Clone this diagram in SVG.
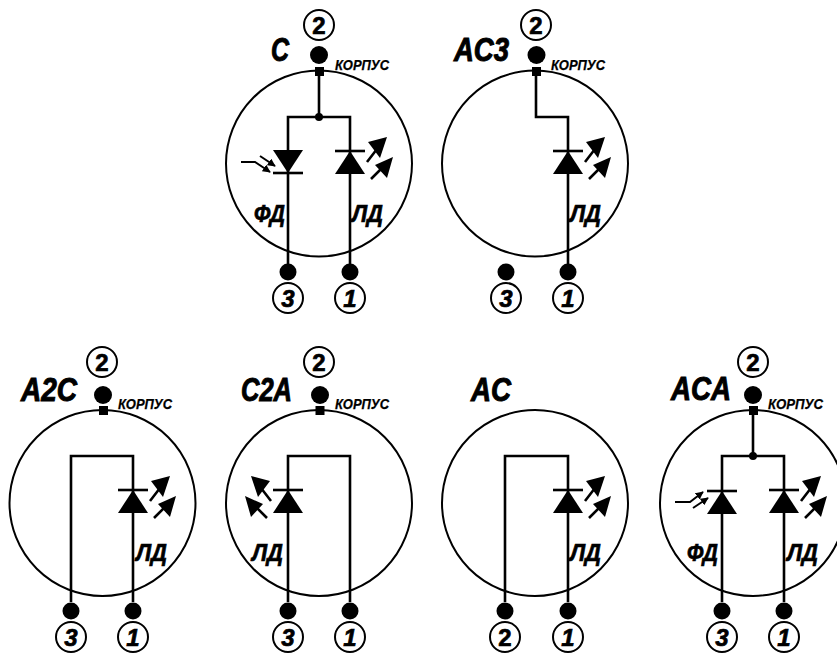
<svg xmlns="http://www.w3.org/2000/svg" width="837" height="659" viewBox="0 0 837 659">
<style>
text{font-family:"Liberation Sans",Arial,sans-serif;font-weight:bold;font-style:italic;fill:#000;stroke:#000;stroke-width:.7}
.body{fill:none;stroke:#000;stroke-width:2}
.w{fill:none;stroke:#000;stroke-width:2.6}
.p{fill:none;stroke:#000;stroke-width:2}
.num{fill:none;stroke:#000;stroke-width:2}
.t{font-size:33px;stroke-width:1}
.k{font-size:15px;stroke-width:.25}
.d{font-size:24px}
.n{font-size:24px;text-anchor:middle}
.u{font-style:normal}
</style>
<defs>
<marker id="sh" viewBox="0 0 10 10" refX="9" refY="5" markerWidth="4" markerHeight="4" markerUnits="strokeWidth" orient="auto"><path d="M0 0L10 5L0 10z" fill="#000"/></marker>
<g id="diodeUp"><path d="M-15 0H15" class="w"/><path d="M0 0L15 23H-15z" fill="#000"/></g>
<g id="diodeDown"><path d="M-15 23H15" class="w"/><path d="M0 23L15 0H-15z" fill="#000"/></g>
<g id="ledArrows"><path d="M17 11L27 -2M21 28L33 16" class="w"/><path d="M37 -14L18 -9L30 7z M43 6L25 14L37 27z" fill="#000"/></g>
</defs>
<g id="connectors">
<path class="w" d="M319 71V117M288 264V117H350V264"/>
<path class="w" d="M536 71V117H568V264"/>
<path class="w" d="M71 602V456H133V602"/>
<path class="w" d="M288 602V456H350V602"/>
<path class="w" d="M505 602V456H568V602"/>
<path class="w" d="M753 410V456M722 602V456H784V602"/>
</g>
<g id="node-c">
<circle class="body" cx="319" cy="163.5" r="93"/>
<text class="t" x="271" y="61" textLength="18" lengthAdjust="spacingAndGlyphs">C</text>
<circle class="num" cx="319" cy="25" r="15"/><text class="n u" x="319" y="33.5">2</text>
<circle cx="319" cy="55" r="9"/><rect x="315" y="67" width="9" height="9"/>
<text class="k" x="335" y="70" textLength="54" lengthAdjust="spacingAndGlyphs">КОРПУС</text>
<circle cx="319" cy="117" r="4"/>
<use href="#diodeDown" x="288" y="150"/>
<use href="#diodeUp" x="350" y="151"/><use href="#ledArrows" x="350" y="151"/>
<path class="p" d="M241 162H255L270 172" marker-end="url(#sh)"/><path class="p" d="M260 156L275 166" marker-end="url(#sh)"/>
<text class="d" x="254" y="222" textLength="31" lengthAdjust="spacingAndGlyphs">ФД</text><text class="d" x="352" y="222" textLength="31" lengthAdjust="spacingAndGlyphs">ЛД</text>
<circle cx="288" cy="272" r="8.5"/><circle cx="350" cy="272" r="8.5"/>
<circle class="num" cx="288" cy="298" r="15"/><text class="n" x="288" y="306.5">3</text>
<circle class="num" cx="350" cy="298" r="15"/><text class="n" x="350" y="306.5">1</text>
</g>
<g id="node-ac3">
<circle class="body" cx="535" cy="163.5" r="93"/>
<text class="t" x="454" y="61" textLength="55" lengthAdjust="spacingAndGlyphs">AC3</text>
<circle class="num" cx="536" cy="25" r="15"/><text class="n u" x="536" y="33.5">2</text>
<circle cx="536.5" cy="55" r="9"/><rect x="532" y="67" width="9" height="9"/>
<text class="k" x="551" y="70" textLength="54" lengthAdjust="spacingAndGlyphs">КОРПУС</text>
<use href="#diodeUp" x="568" y="151"/><use href="#ledArrows" x="568" y="151"/>
<text class="d" x="570" y="222" textLength="31" lengthAdjust="spacingAndGlyphs">ЛД</text>
<circle cx="506" cy="272" r="8.5"/><circle cx="568" cy="272" r="8.5"/>
<circle class="num" cx="506" cy="298" r="15"/><text class="n" x="506" y="306.5">3</text>
<circle class="num" cx="568" cy="298" r="15"/><text class="n" x="568" y="306.5">1</text>
</g>
<g id="node-a2c">
<circle class="body" cx="102.5" cy="503" r="93"/>
<text class="t" x="21" y="401" textLength="56" lengthAdjust="spacingAndGlyphs">A2C</text>
<circle class="num" cx="102" cy="362" r="15"/><text class="n u" x="102" y="370.5">2</text>
<circle cx="103" cy="395" r="9"/><rect x="99" y="406" width="9" height="9"/>
<text class="k" x="118" y="409" textLength="54" lengthAdjust="spacingAndGlyphs">КОРПУС</text>
<use href="#diodeUp" x="133" y="490"/><use href="#ledArrows" x="133" y="490"/>
<text class="d" x="136" y="561" textLength="31" lengthAdjust="spacingAndGlyphs">ЛД</text>
<circle cx="71" cy="611" r="8.5"/><circle cx="133" cy="611" r="8.5"/>
<circle class="num" cx="71" cy="637" r="15"/><text class="n" x="71" y="645.5">3</text>
<circle class="num" cx="133" cy="637" r="15"/><text class="n" x="133" y="645.5">1</text>
</g>
<g id="node-c2a">
<circle class="body" cx="319" cy="503" r="93"/>
<text class="t" x="241" y="401" textLength="51" lengthAdjust="spacingAndGlyphs">C2A</text>
<circle class="num" cx="319" cy="362" r="15"/><text class="n u" x="319" y="370.5">2</text>
<circle cx="320" cy="395" r="9"/><rect x="315.500" y="406" width="9" height="9"/>
<text class="k" x="335" y="409" textLength="54" lengthAdjust="spacingAndGlyphs">КОРПУС</text>
<use href="#diodeUp" x="288" y="490"/><use href="#ledArrows" transform="translate(288 490) scale(-1 1)"/>
<text class="d" x="252" y="561" textLength="31" lengthAdjust="spacingAndGlyphs">ЛД</text>
<circle cx="288" cy="611" r="8.5"/><circle cx="350" cy="611" r="8.5"/>
<circle class="num" cx="288" cy="637" r="15"/><text class="n" x="288" y="645.5">3</text>
<circle class="num" cx="350" cy="637" r="15"/><text class="n" x="350" y="645.5">1</text>
</g>
<g id="node-ac">
<circle class="body" cx="535" cy="503" r="93"/>
<text class="t" x="471" y="401" textLength="40" lengthAdjust="spacingAndGlyphs">AC</text>
<use href="#diodeUp" x="568" y="490"/><use href="#ledArrows" x="568" y="490"/>
<text class="d" x="570" y="561" textLength="31" lengthAdjust="spacingAndGlyphs">ЛД</text>
<circle cx="505" cy="611" r="8.5"/><circle cx="568" cy="611" r="8.5"/>
<circle class="num" cx="505" cy="637" r="15"/><text class="n u" x="505" y="645.5">2</text>
<circle class="num" cx="568" cy="637" r="15"/><text class="n" x="568" y="645.5">1</text>
</g>
<g id="node-aca">
<circle class="body" cx="753" cy="503" r="93"/>
<text class="t" x="671" y="400" textLength="60" lengthAdjust="spacingAndGlyphs">ACA</text>
<circle class="num" cx="753" cy="362" r="15"/><text class="n u" x="753" y="370.5">2</text>
<circle cx="753" cy="395" r="9"/><rect x="749" y="406" width="9" height="9"/>
<text class="k" x="768" y="409" textLength="55" lengthAdjust="spacingAndGlyphs">КОРПУС</text>
<circle cx="753" cy="456" r="4"/>
<use href="#diodeUp" x="722" y="491"/>
<use href="#diodeUp" x="784" y="490"/><use href="#ledArrows" x="784" y="490"/>
<path class="p" d="M675 502H690L703 492" marker-end="url(#sh)"/><path class="p" d="M693 508L708 498" marker-end="url(#sh)"/>
<text class="d" x="687" y="561" textLength="31" lengthAdjust="spacingAndGlyphs">ФД</text><text class="d" x="787" y="561" textLength="31" lengthAdjust="spacingAndGlyphs">ЛД</text>
<circle cx="722" cy="611" r="8.5"/><circle cx="784" cy="611" r="8.5"/>
<circle class="num" cx="722" cy="637" r="15"/><text class="n" x="722" y="645.5">3</text>
<circle class="num" cx="784" cy="637" r="15"/><text class="n" x="784" y="645.5">1</text>
</g>
</svg>
